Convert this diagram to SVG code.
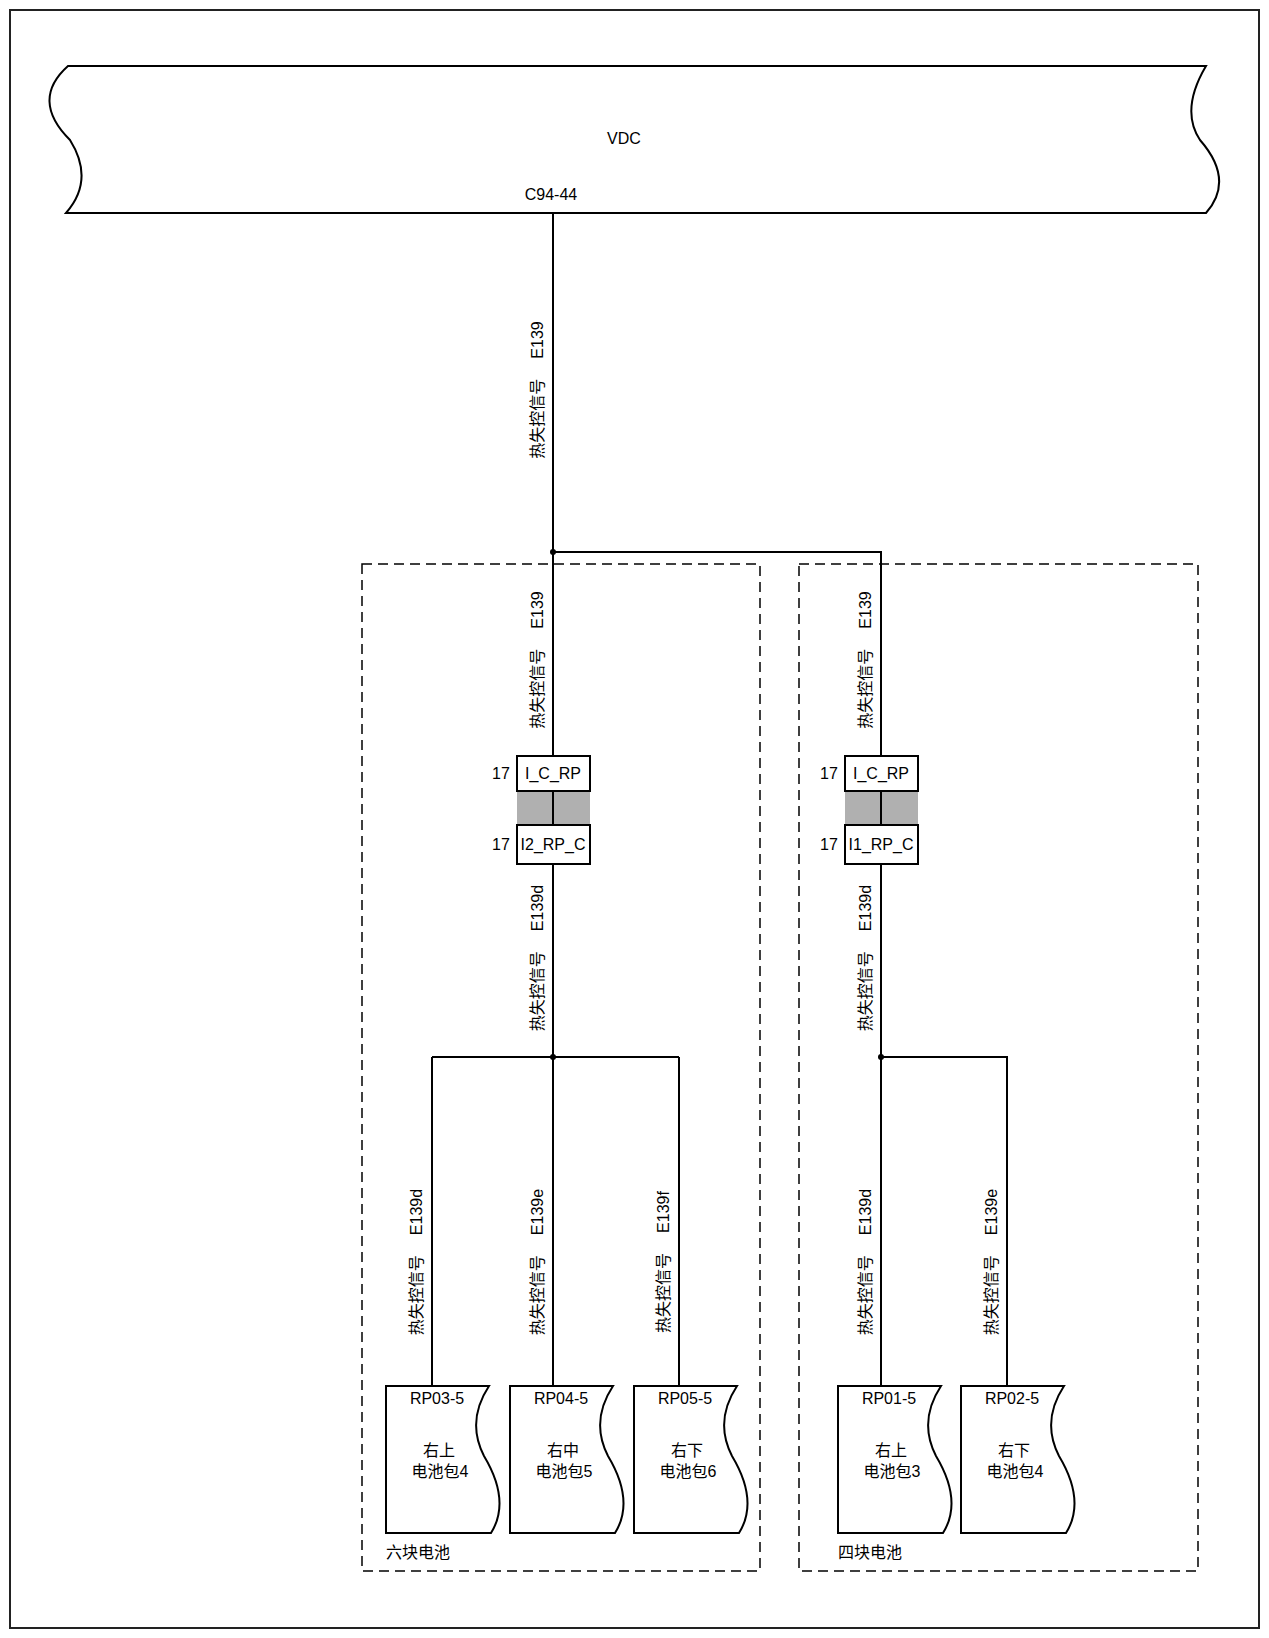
<svg xmlns="http://www.w3.org/2000/svg" width="1269" height="1638" viewBox="0 0 1269 1638">
<style>
text{font-family:"Liberation Sans","Noto Sans CJK SC",sans-serif;font-size:16px;fill:#000}
.w{stroke:#000;stroke-width:2;fill:none}
.d{stroke:#000;stroke-width:1.5;fill:none;stroke-dasharray:10 6}
.b{stroke:#000;stroke-width:2;fill:#fff}
.m{text-anchor:middle}
</style>
<rect width="1269" height="1638" fill="#fff"/>
<rect x="10" y="10" width="1249" height="1618" fill="none" stroke="#222" stroke-width="2"/>
<g id="vdc">
<path class="b" d="M68 66 H1206 Q1180 110 1200 140 Q1235 180 1206 213 H66 Q95 180 70 140 Q30 100 68 66 Z"/>
<text x="624" y="144" class="m">VDC</text>
<text x="551" y="200" class="m">C94-44</text>
</g>
<g id="groups">
<rect class="d" x="362" y="564" width="398" height="1007"/>
<rect class="d" x="799" y="564" width="399" height="1007"/>
<text x="386" y="1558">六块电池</text>
<text x="838" y="1558">四块电池</text>
</g>
<g id="connectors">
<path class="w" d="M553 213 V756 M553 552 H881 V756 M553 864 V1386 M881 864 V1386 M432 1057 H679 M432 1057 V1386 M679 1057 V1386 M881 1057 H1007 V1386"/>
<circle cx="553" cy="552" r="3"/><circle cx="553" cy="1057" r="3"/><circle cx="881" cy="1057" r="3"/>
<g transform="translate(543,390) rotate(-90)"><text class="m">热失控信号<tspan dx="20">E139</tspan></text></g>
<g transform="translate(543,660) rotate(-90)"><text class="m">热失控信号<tspan dx="20">E139</tspan></text></g>
<g transform="translate(871,660) rotate(-90)"><text class="m">热失控信号<tspan dx="20">E139</tspan></text></g>
<g transform="translate(543,958) rotate(-90)"><text class="m">热失控信号<tspan dx="20">E139d</tspan></text></g>
<g transform="translate(871,958) rotate(-90)"><text class="m">热失控信号<tspan dx="20">E139d</tspan></text></g>
<g transform="translate(422,1262) rotate(-90)"><text class="m">热失控信号<tspan dx="20">E139d</tspan></text></g>
<g transform="translate(543,1262) rotate(-90)"><text class="m">热失控信号<tspan dx="20">E139e</tspan></text></g>
<g transform="translate(669,1262) rotate(-90)"><text class="m">热失控信号<tspan dx="20">E139f</tspan></text></g>
<g transform="translate(871,1262) rotate(-90)"><text class="m">热失控信号<tspan dx="20">E139d</tspan></text></g>
<g transform="translate(997,1262) rotate(-90)"><text class="m">热失控信号<tspan dx="20">E139e</tspan></text></g>
</g>
<g id="conn1">
<rect x="517" y="791" width="73" height="34" fill="#b0b0b0"/>
<rect class="b" x="517" y="756" width="73" height="35"/>
<rect class="b" x="517" y="825" width="73" height="39"/>
<line x1="553" y1="791" x2="553" y2="825" stroke="#000" stroke-width="2"/>
<text x="553" y="779" class="m">I_C_RP</text>
<text x="553" y="850" class="m">I2_RP_C</text>
<text x="492" y="779">17</text><text x="492" y="850">17</text>
</g>
<g id="conn2">
<rect x="845" y="791" width="73" height="34" fill="#b0b0b0"/>
<rect class="b" x="845" y="756" width="73" height="35"/>
<rect class="b" x="845" y="825" width="73" height="39"/>
<line x1="881" y1="791" x2="881" y2="825" stroke="#000" stroke-width="2"/>
<text x="881" y="779" class="m">I_C_RP</text>
<text x="881" y="850" class="m">I1_RP_C</text>
<text x="820" y="779">17</text><text x="820" y="850">17</text>
</g>
<defs>
<path id="bat" d="M0 0 H103 Q80 35 98 70 Q125 115 105 147 H0 Z" fill="#fff" stroke="#000" stroke-width="2"/>
</defs>
<g id="rp03"><use href="#bat" x="386" y="1386"/><text x="437" y="1404" class="m">RP03-5</text><text x="439" y="1456" class="m">右上</text><text x="440" y="1477" class="m">电池包4</text></g>
<g id="rp04"><use href="#bat" x="510" y="1386"/><text x="561" y="1404" class="m">RP04-5</text><text x="563" y="1456" class="m">右中</text><text x="564" y="1477" class="m">电池包5</text></g>
<g id="rp05"><use href="#bat" x="634" y="1386"/><text x="685" y="1404" class="m">RP05-5</text><text x="687" y="1456" class="m">右下</text><text x="688" y="1477" class="m">电池包6</text></g>
<g id="rp01"><use href="#bat" x="838" y="1386"/><text x="889" y="1404" class="m">RP01-5</text><text x="891" y="1456" class="m">右上</text><text x="892" y="1477" class="m">电池包3</text></g>
<g id="rp02"><use href="#bat" x="961" y="1386"/><text x="1012" y="1404" class="m">RP02-5</text><text x="1014" y="1456" class="m">右下</text><text x="1015" y="1477" class="m">电池包4</text></g>
</svg>
